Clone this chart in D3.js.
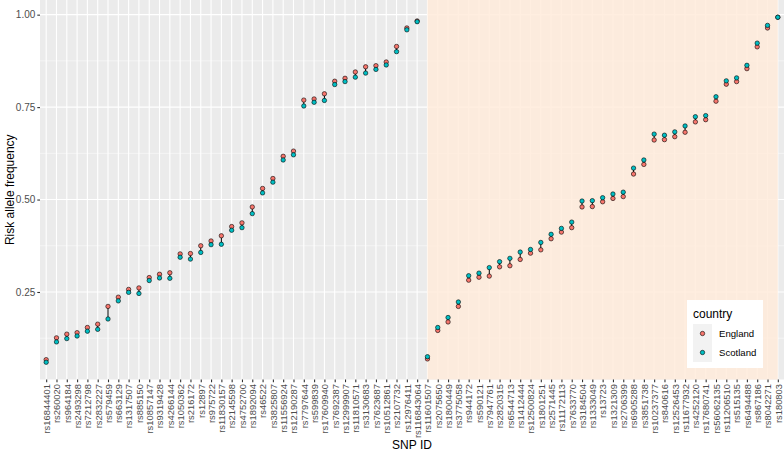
<!DOCTYPE html>
<html lang="en">
<head>
  <meta charset="UTF-8">
  <script src="https://d3js.org/d3.v7.min.js"></script>
  <title>Risk allele frequency</title>
  <style>
    body { margin: 0; background: white; }
    svg { display: block; font-family: "Liberation Sans", Arial, sans-serif; }
  </style>
</head>
<body>
  <svg width="784" height="454"></svg>
  <script>
    const snps = [
      "rs16844401", "rs260020", "rs964184", "rs2493298", "rs7212798", "rs2832227", "rs579459", "rs663129",
      "rs1317507", "rs885150", "rs10857147", "rs9319428", "rs4266144", "rs1050362", "rs216172", "rs12897",
      "rs975722", "rs11830157", "rs2145598", "rs4752700", "rs1892094", "rs46522", "rs3825807", "rs11556924",
      "rs12190287", "rs7797644", "rs599839", "rs17609940", "rs7692387", "rs12999907", "rs11810571", "rs3130683",
      "rs7623687", "rs10512861", "rs2107732", "rs12976411", "rs116843064",
      "rs11601507", "rs2075650", "rs1800449", "rs3775058", "rs944172", "rs590121", "rs7947761", "rs2820315",
      "rs6544713", "rs1412444", "rs12500824", "rs1801251", "rs2571445", "rs11172113", "rs7633770", "rs3184504",
      "rs1333049", "rs13723", "rs1321309", "rs2706399", "rs6905288", "rs3851738", "rs10237377", "rs840616",
      "rs12526453", "rs11677932", "rs4252120", "rs17680741", "rs56062135", "rs11206510", "rs515135", "rs6494488",
      "rs867186", "rs8042271", "rs180803"
    ];
    const england = [
      0.067, 0.126, 0.136, 0.140, 0.154, 0.163, 0.211, 0.236, 0.257, 0.261, 0.289, 0.298, 0.302, 0.353, 0.354, 0.375,
      0.388, 0.402, 0.427, 0.437, 0.480, 0.530, 0.557, 0.617, 0.631, 0.769, 0.772, 0.786, 0.820, 0.828, 0.845, 0.859,
      0.862, 0.872, 0.914, 0.964, 0.983,
      0.069, 0.146, 0.169, 0.211, 0.282, 0.290, 0.293, 0.318, 0.321, 0.338, 0.355, 0.364, 0.394, 0.412, 0.424, 0.480,
      0.481, 0.494, 0.503, 0.508, 0.569, 0.595, 0.661, 0.662, 0.670, 0.682, 0.710, 0.716, 0.766, 0.812, 0.819, 0.854,
      0.913, 0.964, 0.993
    ];
    const scotland = [
      0.060, 0.115, 0.124, 0.131, 0.144, 0.149, 0.177, 0.226, 0.249, 0.246, 0.281, 0.288, 0.287, 0.344, 0.339, 0.357,
      0.378, 0.379, 0.417, 0.424, 0.462, 0.518, 0.547, 0.607, 0.621, 0.753, 0.763, 0.768, 0.811, 0.819, 0.831, 0.842,
      0.852, 0.864, 0.900, 0.959, 0.981,
      0.075, 0.154, 0.181, 0.223, 0.294, 0.301, 0.316, 0.332, 0.341, 0.358, 0.365, 0.384, 0.406, 0.422, 0.439, 0.496,
      0.497, 0.505, 0.515, 0.520, 0.585, 0.607, 0.677, 0.674, 0.683, 0.699, 0.724, 0.727, 0.778, 0.821, 0.829, 0.863,
      0.923, 0.971, 0.993
    ];
    const yTicks = [0.25, 0.50, 0.75, 1.00];
    const yMinor = [0.125, 0.375, 0.625, 0.875];
    const countries = ["England", "Scotland"];
    const colors = ["#F8766D", "#00BFC4"];
    // shaded block runs from this SNP to the last one
    const shadeFrom = "rs11601507";
    const shadeTo = "rs180803";

    const svg = d3.select("svg");
    const pLeft = 40, pRight = 784, pTop = 0, pBottom = 379.5;

    const x = d3.scalePoint().domain(snps).range([pLeft, pRight]).padding(0.6);
    const all = england.concat(scotland);
    const lo = d3.min(all), hi = d3.max(all), pad = (hi - lo) * 0.05;
    const y = d3.scaleLinear().domain([lo - pad, hi + pad]).range([pBottom, pTop]);

    // panel
    svg.append("rect").attr("x", pLeft).attr("y", pTop)
      .attr("width", pRight - pLeft).attr("height", pBottom - pTop).attr("fill", "#EBEBEB");

    svg.append("g").selectAll("line").data(yMinor).join("line")
      .attr("x1", pLeft).attr("x2", pRight).attr("y1", d => y(d)).attr("y2", d => y(d))
      .attr("stroke", "white").attr("stroke-width", 0.5);
    svg.append("g").selectAll("line").data(yTicks).join("line")
      .attr("x1", pLeft).attr("x2", pRight).attr("y1", d => y(d)).attr("y2", d => y(d))
      .attr("stroke", "white").attr("stroke-width", 1.1);
    svg.append("g").selectAll("line").data(snps).join("line")
      .attr("x1", d => x(d)).attr("x2", d => x(d)).attr("y1", pTop).attr("y2", pBottom)
      .attr("stroke", "white").attr("stroke-width", 1.1);

    svg.append("rect")
      .attr("x", x(shadeFrom)).attr("y", pTop)
      .attr("width", x(shadeTo) - x(shadeFrom)).attr("height", pBottom - pTop)
      .attr("fill", "#FFEBDA").attr("fill-opacity", 0.85);

    // axes
    const yAxis = svg.append("g")
      .attr("transform", `translate(${pLeft},0)`)
      .call(d3.axisLeft(y).tickValues(yTicks).tickFormat(d3.format(".2f")).tickSize(2.7).tickPadding(2));
    yAxis.select(".domain").remove();
    yAxis.selectAll(".tick line").attr("stroke", "#333333").attr("stroke-width", 1.1);
    yAxis.selectAll(".tick text").attr("fill", "#4D4D4D").style("font-size", "10px")
      .style("font-family", "'Liberation Sans', Arial, sans-serif");

    const xAxis = svg.append("g")
      .attr("transform", `translate(0,${pBottom})`)
      .call(d3.axisBottom(x).tickSize(2.7).tickPadding(2));
    xAxis.select(".domain").remove();
    xAxis.selectAll(".tick line").attr("stroke", "#333333").attr("stroke-width", 1.1);
    xAxis.selectAll(".tick text")
      .attr("fill", "#4D4D4D").style("font-size", "9.4px")
      .style("font-family", "'Liberation Sans', Arial, sans-serif")
      .attr("transform", "rotate(-90)")
      .attr("x", -4.5).attr("y", 0).attr("dy", "0.35em")
      .attr("text-anchor", "end");

    svg.append("text").attr("x", (pLeft + pRight) / 2).attr("y", 449)
      .attr("text-anchor", "middle").style("font-size", "12px").text("SNP ID");
    svg.append("text").attr("transform", `translate(14,${(pTop + pBottom) / 2}) rotate(-90)`)
      .attr("text-anchor", "middle").style("font-size", "12px").text("Risk allele frequency");

    // segments between the two countries
    svg.append("g").selectAll("line").data(snps).join("line")
      .attr("x1", d => x(d)).attr("x2", d => x(d))
      .attr("y1", (d, i) => y(england[i])).attr("y2", (d, i) => y(scotland[i]))
      .attr("stroke", "black").attr("stroke-width", 1);

    [england, scotland].forEach((vals, k) => {
      svg.append("g").selectAll("circle").data(snps).join("circle")
        .attr("cx", d => x(d)).attr("cy", (d, i) => y(vals[i])).attr("r", 2.2)
        .attr("fill", colors[k]).attr("stroke", "black").attr("stroke-width", 0.6);
    });

    // legend
    const lg = svg.append("g").attr("transform", "translate(687,300)");
    lg.append("rect").attr("width", 76).attr("height", 68).attr("fill", "white");
    lg.append("text").attr("x", 6).attr("y", 18).style("font-size", "12px").text("country");
    countries.forEach((c, k) => {
      const ky = 24 + k * 19;
      lg.append("rect").attr("x", 6).attr("y", ky).attr("width", 19).attr("height", 19).attr("fill", "#F2F2F2");
      lg.append("circle").attr("cx", 15.5).attr("cy", ky + 9.5).attr("r", 2.2)
        .attr("fill", colors[k]).attr("stroke", "black").attr("stroke-width", 0.6);
      lg.append("text").attr("x", 32).attr("y", ky + 9.5).attr("dy", "0.35em")
        .style("font-size", "9.6px").text(c);
    });
  </script>
</body>
</html>
